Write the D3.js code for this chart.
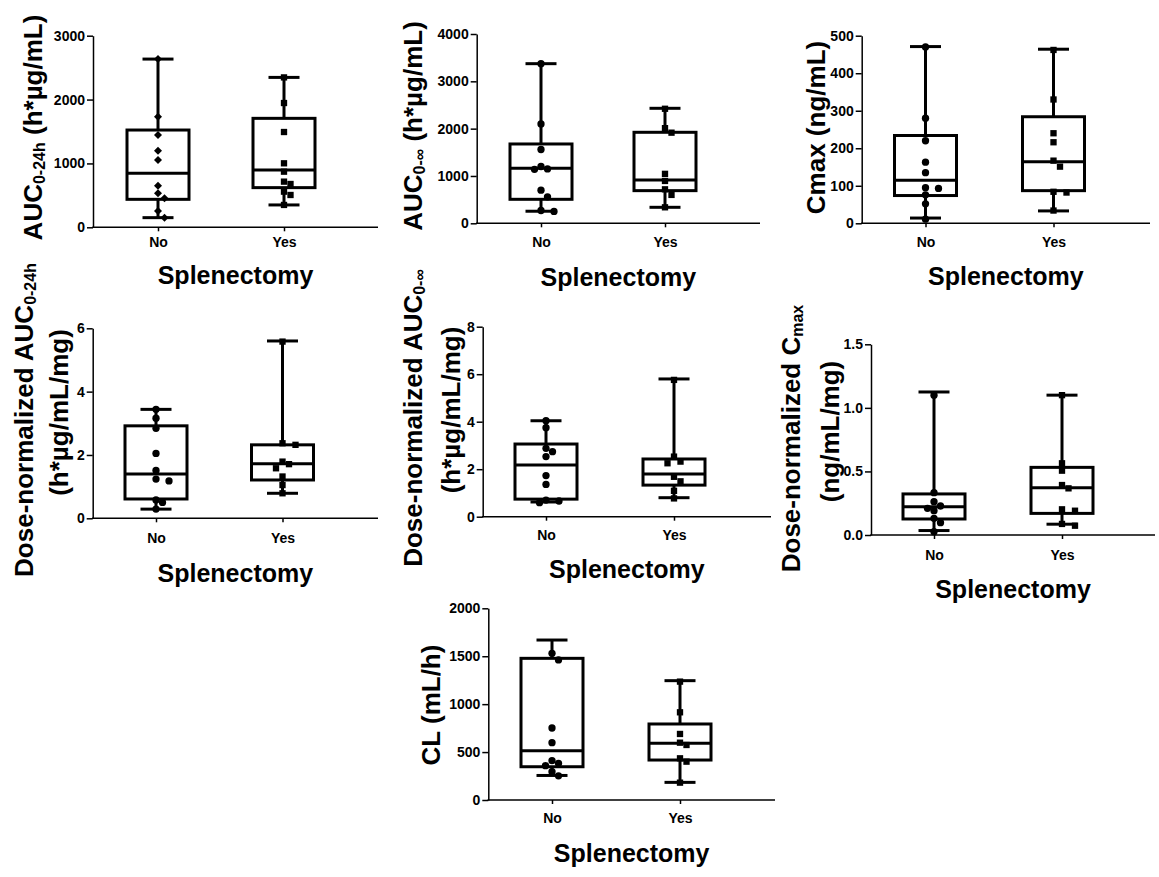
<!DOCTYPE html>
<html>
<head>
<meta charset="utf-8">
<script src="https://cdn.jsdelivr.net/npm/d3@7"></script>
<style>
  html, body { margin: 0; padding: 0; background: #fff; }
  svg { display: block; }
</style>
</head>
<body>
<svg id="chart" width="1159" height="877"></svg>
<script>
// Groups on the x axis
const categories = ["No", "Yes"];

// AUC 0-24h (h*µg/mL)
const auc24No  = [2634, 1732, 1445, 1200, 1054, 652, 532, 454, 256, 151];
const auc24Yes = [2347, 1946, 1492, 1002, 871, 715, 678, 558, 506, 350];
const auc24NoBox  = [151, 438, 845, 1523, 2634];   // min, Q1, median, Q3, max
const auc24YesBox = [350, 621, 897, 1706, 2347];
const auc24Ticks = [0, 1000, 2000, 3000];

// AUC 0-inf (h*µg/mL)
const aucInfNo  = [3373, 2100, 1560, 1200, 1150, 1140, 700, 560, 270, 250];
const aucInfYes = [2420, 2010, 1915, 1045, 895, 718, 600, 338];
const aucInfNoBox  = [255, 507, 1162, 1676, 3373];
const aucInfYesBox = [338, 690, 915, 1923, 2430];
const aucInfTicks = [0, 1000, 2000, 3000, 4000];

// Cmax (ng/mL)
const cmaxNo  = [470, 280, 220, 163, 135, 95, 93, 76, 52, 11];
const cmaxYes = [462, 330, 240, 216, 167, 151, 84, 82, 34];
const cmaxNoBox  = [14, 74, 115, 234, 471];
const cmaxYesBox = [33, 87, 164, 284, 464];
const cmaxTicks = [0, 100, 200, 300, 400, 500];

// Dose-normalized AUC 0-24h (h*µg/mL/mg)
const dnAuc24No  = [3.44, 3.16, 2.84, 2.05, 1.51, 1.24, 1.18, 0.58, 0.50, 0.29];
const dnAuc24Yes = [5.58, 2.37, 2.32, 1.79, 1.71, 1.58, 1.32, 1.05, 0.79];
const dnAuc24NoBox  = [0.29, 0.61, 1.40, 2.92, 3.44];
const dnAuc24YesBox = [0.79, 1.21, 1.72, 2.32, 5.60];
const dnAuc24Ticks = [0, 2, 4, 6];

// Dose-normalized AUC 0-inf (h*µg/mL/mg)
const dnAucInfNo  = [4.04, 3.75, 2.88, 2.74, 2.53, 1.73, 1.36, 0.70, 0.66, 0.59];
const dnAucInfYes = [5.76, 2.53, 2.32, 2.25, 1.68, 1.49, 1.09, 0.77];
const dnAucInfNoBox  = [0.62, 0.74, 2.18, 3.06, 4.04];
const dnAucInfYesBox = [0.80, 1.33, 1.80, 2.43, 5.80];
const dnAucInfTicks = [0, 2, 4, 6, 8];

// Dose-normalized Cmax (ng/mL/mg)
const dnCmaxNo  = [1.10, 0.333, 0.262, 0.228, 0.21, 0.191, 0.131, 0.097, 0.026];
const dnCmaxYes = [1.10, 0.564, 0.506, 0.393, 0.367, 0.202, 0.191, 0.087, 0.073];
const dnCmaxNoBox  = [0.035, 0.126, 0.223, 0.323, 1.125];
const dnCmaxYesBox = [0.085, 0.170, 0.372, 0.532, 1.10];
const dnCmaxTicks = [0, 0.5, 1.0, 1.5];

// CL (mL/h)
const clNo  = [1530, 1461, 751, 598, 410, 383, 358, 295, 252];
const clYes = [1235, 915, 689, 598, 574, 435, 400, 181];
const clNoBox  = [256, 347, 514, 1478, 1669];
const clYesBox = [184, 417, 591, 793, 1245];
const clTicks = [0, 500, 1000, 1500, 2000];

const FONT = "'Liberation Sans', Arial, Helvetica, sans-serif";
const intFmt = d3.format("d");
const oneDec = d3.format(".1f");

// Panel layout: axis frame, category positions and axis-title placement
const panels = [
  { no: auc24No, yes: auc24Yes, noBox: auc24NoBox, yesBox: auc24YesBox, ticks: auc24Ticks, fmt: intFmt, noShape: "diamond",
    frame: { x0: 93, x1: 378, yTop: 35.7, yBot: 227.3, cats: [158, 284], tickBase: 246.7, xTitle: 283.5 },
    title: [{ x: 41.7, y: 127.5, parts: [["AUC"], ["0-24h", "sub"], [" (h*µg/mL)"]] }] },
  { no: aucInfNo, yes: aucInfYes, noBox: aucInfNoBox, yesBox: aucInfYesBox, ticks: aucInfTicks, fmt: intFmt, noShape: "circle",
    frame: { x0: 476.7, x1: 760, yTop: 34, yBot: 223.3, cats: [541, 665], tickBase: 246.7, xTitle: 286 },
    title: [{ x: 421.7, y: 126, parts: [["AUC"], ["0-∞", "sub"], [" (h*µg/mL)"]] }] },
  { no: cmaxNo, yes: cmaxYes, noBox: cmaxNoBox, yesBox: cmaxYesBox, ticks: cmaxTicks, fmt: intFmt, noShape: "circle",
    frame: { x0: 861.7, x1: 1150, yTop: 35.7, yBot: 223.3, cats: [925.5, 1053.5], tickBase: 247.5, xTitle: 285 },
    title: [{ x: 825, y: 127.5, parts: [["Cmax (ng/mL)"]] }] },
  { no: dnAuc24No, yes: dnAuc24Yes, noBox: dnAuc24NoBox, yesBox: dnAuc24YesBox, ticks: dnAuc24Ticks, fmt: intFmt, noShape: "circle",
    frame: { x0: 92.7, x1: 378, yTop: 328.3, yBot: 518.3, cats: [156, 282.5], tickBase: 543, xTitle: 581.5 },
    title: [{ x: 33.3, y: 420, parts: [["Dose-normalized AUC"], ["0-24h", "sub"]] },
            { x: 68.3, y: 412.5, parts: [["(h*µg/mL/mg)"]] }] },
  { no: dnAucInfNo, yes: dnAucInfYes, noBox: dnAucInfNoBox, yesBox: dnAucInfYesBox, ticks: dnAucInfTicks, fmt: intFmt, noShape: "circle",
    frame: { x0: 482.7, x1: 771, yTop: 326.7, yBot: 516.7, cats: [546, 674], tickBase: 540, xTitle: 578 },
    title: [{ x: 421.7, y: 418, parts: [["Dose-normalized AUC"], ["0-∞", "sub"]] },
            { x: 460, y: 410, parts: [["(h*µg/mL/mg)"]] }] },
  { no: dnCmaxNo, yes: dnCmaxYes, noBox: dnCmaxNoBox, yesBox: dnCmaxYesBox, ticks: dnCmaxTicks, fmt: oneDec, noShape: "circle",
    frame: { x0: 871, x1: 1155, yTop: 344.3, yBot: 535, cats: [934, 1062], tickBase: 560, xTitle: 598 },
    title: [{ x: 800, y: 438.5, parts: [["Dose-normalized C"], ["max", "sub"]] },
            { x: 839.3, y: 431.5, parts: [["(ng/mL/mg)"]] }] },
  { no: clNo, yes: clYes, noBox: clNoBox, yesBox: clYesBox, ticks: clTicks, fmt: intFmt, noShape: "circle",
    frame: { x0: 488.3, x1: 775, yTop: 608.3, yBot: 800, cats: [552, 680], tickBase: 823, xTitle: 861.5 },
    title: [{ x: 440, y: 705, parts: [["CL (mL/h)"]] }] }
];

const svg = d3.select("#chart");
svg.append("rect").attr("width", 1159).attr("height", 877).attr("fill", "#fff");

const BOX_W = 62, CAP_W = 31, LINE_W = 3, AXIS_W = 1.5;

// Spread points that would overlap, keeping them near the group centre
function swarm(values, y, cx) {
  const step = 6.5, minD = 6.8;
  const pts = values.map(v => ({ v, y: y(v) })).sort((a, b) => a.y - b.y);
  const placed = [];
  pts.forEach(p => {
    for (let k = 0; k < 30; k++) {
      const off = k === 0 ? 0 : (k % 2 ? 1 : -1) * Math.ceil(k / 2) * step;
      const x = cx + off;
      if (placed.every(q => Math.hypot(q.x - x, q.y - p.y) >= minD)) {
        p.x = x; placed.push(p); break;
      }
    }
  });
  return placed;
}

const symbols = {
  circle: d3.symbol().type(d3.symbolCircle).size(42),
  square: d3.symbol().type(d3.symbolSquare).size(40),
  diamond: d3.symbol().type(d3.symbolSquare).size(32)
};

panels.forEach(p => {
  const f = p.frame;
  const g = svg.append("g");
  const y = d3.scaleLinear()
    .domain([0, d3.max(p.ticks)])
    .range([f.yBot, f.yTop]);
  const x = d3.scalePoint().domain(categories).range(f.cats);

  // y axis
  const yAxis = d3.axisLeft(y).tickValues(p.ticks).tickFormat(p.fmt)
    .tickSize(6).tickSizeOuter(0).tickPadding(2);
  const ya = g.append("g").attr("transform", `translate(${f.x0},0)`).call(yAxis);
  ya.select(".domain").attr("stroke", "#000").attr("stroke-width", AXIS_W);
  ya.selectAll(".tick line").attr("stroke", "#000").attr("stroke-width", AXIS_W);
  ya.selectAll(".tick text").attr("fill", "#000")
    .style("font-family", FONT).style("font-weight", "bold").style("font-size", "14px");

  // x axis: baseline line across the panel, ticks and labels from the point scale
  g.append("line")
    .attr("x1", f.x0 - AXIS_W / 2).attr("x2", f.x1)
    .attr("y1", f.yBot).attr("y2", f.yBot)
    .attr("stroke", "#000").attr("stroke-width", AXIS_W);
  const pad = f.tickBase - f.yBot - 4 - 0.71 * 14;
  const xAxis = d3.axisBottom(x).tickSize(4).tickSizeOuter(0).tickPadding(pad);
  const xa = g.append("g").attr("transform", `translate(0,${f.yBot})`).call(xAxis);
  xa.select(".domain").remove();
  xa.selectAll(".tick line").attr("stroke", "#000").attr("stroke-width", AXIS_W);
  xa.selectAll(".tick text").attr("fill", "#000")
    .style("font-family", FONT).style("font-weight", "bold").style("font-size", "14px");

  // x axis title
  g.append("text")
    .attr("x", (f.x0 + f.x1) / 2).attr("y", f.xTitle)
    .attr("text-anchor", "middle")
    .style("font-family", FONT).style("font-weight", "bold").style("font-size", "25px")
    .text("Splenectomy");

  // y axis title (rotated, possibly two lines, with subscripts)
  p.title.forEach(line => {
    const t = g.append("text")
      .attr("transform", `translate(${line.x},${line.y}) rotate(-90)`)
      .attr("text-anchor", "middle")
      .style("font-family", FONT).style("font-weight", "bold").style("font-size", "26px");
    let shifted = false;
    line.parts.forEach(([txt, kind]) => {
      const s = t.append("tspan").text(txt);
      if (kind === "sub") {
        s.style("font-size", "16px").attr("dy", 3);
        shifted = true;
      } else if (shifted) {
        s.attr("dy", -3);
        shifted = false;
      }
    });
  });

  // boxes with min-to-max whiskers
  const groups = [
    { cat: "No", box: p.noBox, vals: p.no, shape: p.noShape },
    { cat: "Yes", box: p.yesBox, vals: p.yes, shape: "square" }
  ];
  groups.forEach(gr => {
    const cx = x(gr.cat);
    const [mn, q1, med, q3, mx] = gr.box;
    const bg = g.append("g")
      .attr("stroke", "#000").attr("stroke-width", LINE_W).attr("fill", "none");
    bg.append("line").attr("x1", cx).attr("x2", cx).attr("y1", y(mx)).attr("y2", y(q3));
    bg.append("line").attr("x1", cx).attr("x2", cx).attr("y1", y(q1)).attr("y2", y(mn));
    bg.append("line").attr("x1", cx - CAP_W / 2).attr("x2", cx + CAP_W / 2).attr("y1", y(mx)).attr("y2", y(mx));
    bg.append("line").attr("x1", cx - CAP_W / 2).attr("x2", cx + CAP_W / 2).attr("y1", y(mn)).attr("y2", y(mn));
    bg.append("rect")
      .attr("x", cx - BOX_W / 2).attr("width", BOX_W)
      .attr("y", y(q3)).attr("height", y(q1) - y(q3))
      .attr("fill", "#fff");
    bg.append("line").attr("x1", cx - BOX_W / 2).attr("x2", cx + BOX_W / 2).attr("y1", y(med)).attr("y2", y(med));

    // individual values
    const pts = swarm(gr.vals, y, cx);
    g.append("g").selectAll("path").data(pts).join("path")
      .attr("d", symbols[gr.shape])
      .attr("transform", d => `translate(${d.x},${d.y})` + (gr.shape === "diamond" ? " rotate(45)" : ""))
      .attr("fill", "#000");
  });
});
</script>
</body>
</html>
